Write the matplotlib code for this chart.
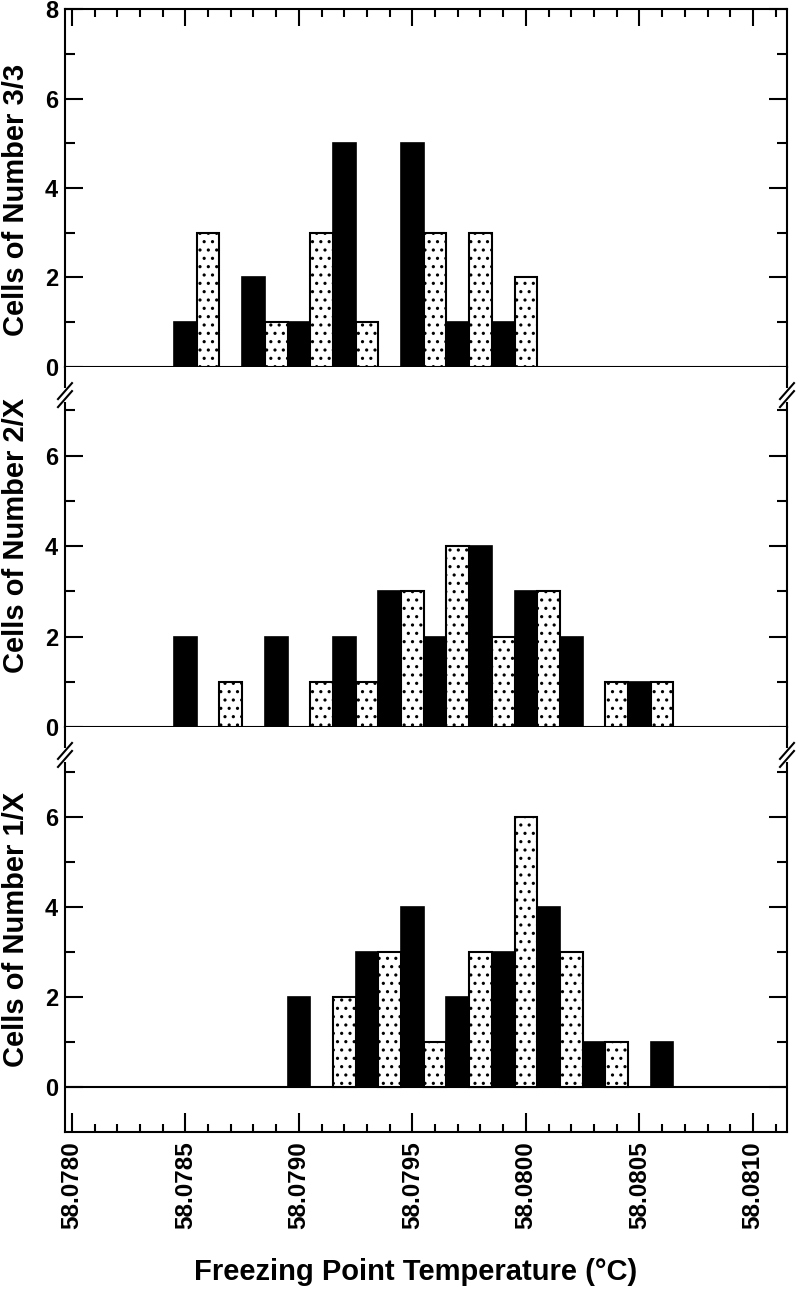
import numpy as np
import matplotlib
matplotlib.use("Agg")
import matplotlib.pyplot as plt
from matplotlib.ticker import FixedLocator, MultipleLocator, FormatStrFormatter

plt.rcParams['font.family'] = ['Liberation Sans', 'DejaVu Sans']
plt.rcParams['font.weight'] = 'bold'
plt.rcParams['axes.labelweight'] = 'bold'
plt.rcParams['hatch.linewidth'] = 1.1

# bin centres (deg C) and number of cells in each bin, one pair per panel
temp_33 = [58.0785, 58.0786, 58.0788, 58.0789, 58.0790, 58.0791, 58.0792,
           58.0793, 58.0795, 58.0796, 58.0797, 58.0798, 58.0799, 58.0800]
count_33 = [1, 3, 2, 1, 1, 3, 5, 1, 5, 3, 1, 3, 1, 2]

temp_2x = [58.0785, 58.0787, 58.0789, 58.0791, 58.0792, 58.0793, 58.0794,
           58.0795, 58.0796, 58.0797, 58.0798, 58.0799, 58.0800, 58.0801,
           58.0802, 58.0804, 58.0805, 58.0806]
count_2x = [2, 1, 2, 1, 2, 1, 3, 3, 2, 4, 4, 2, 3, 3, 2, 1, 1, 1]

temp_1x = [58.0790, 58.0792, 58.0793, 58.0794, 58.0795, 58.0796, 58.0797,
           58.0798, 58.0799, 58.0800, 58.0801, 58.0802, 58.0803, 58.0804,
           58.0806]
count_1x = [2, 2, 3, 3, 4, 1, 2, 3, 3, 6, 4, 3, 1, 1, 1]

panel_labels = ["Cells of Number 3/3", "Cells of Number 2/X", "Cells of Number 1/X"]
xtick_vals = [58.0780, 58.0785, 58.0790, 58.0795, 58.0800, 58.0805, 58.0810]
bin_width = 0.0001

W, H = 800, 1292
fig = plt.figure(figsize=(W / 100, H / 100), dpi=100)

# panel extents in pixels (top, bottom)
left_px, width_px = 65, 722
panels_px = [(9, 367), (367, 727), (727, 1132)]
ylims = [(0, 8), (0, 7.96), (-1, 8)]
ylabel_y = [0.467, 0.533, 0.499]
breaks = [None, 0.922, 0.931]

data = [(temp_33, count_33), (temp_2x, count_2x), (temp_1x, count_1x)]
axes = []


def break_marks(ax, frac, h):
    w = width_px
    for x in (0, 1):
        ax.plot([x, x], [frac - 7 / h, frac + 7 / h], color='white', lw=4,
                transform=ax.transAxes, clip_on=False, zorder=5,
                solid_capstyle='butt')
        for off in (-4, 4):
            ax.plot([x - 7 / w, x + 7 / w],
                    [frac + (off - 8) / h, frac + (off + 8) / h],
                    color='black', lw=1.5, transform=ax.transAxes,
                    clip_on=False, zorder=6)


for i, ((top, bot), (temps, counts)) in enumerate(zip(panels_px, data)):
    h = bot - top
    ax = fig.add_axes([left_px / W, 1 - bot / H, width_px / W, h / H])
    axes.append(ax)

    for j, (t, c) in enumerate(zip(temps, counts)):
        if j % 2 == 0:
            ax.bar(t, c, width=bin_width, color='black', edgecolor='black',
                   linewidth=1.2, zorder=3)
        else:
            ax.bar(t, c, width=bin_width, color='white', edgecolor='black',
                   hatch='..', linewidth=1.5, zorder=3)

    ax.set_xlim(58.07797, 58.08115)
    ax.set_ylim(*ylims[i])
    ax.xaxis.set_major_locator(FixedLocator(xtick_vals))
    ax.xaxis.set_minor_locator(MultipleLocator(0.0001))
    ax.xaxis.get_major_formatter().set_useOffset(False)

    yt = [0, 2, 4, 6, 8] if i == 0 else [0, 2, 4, 6]
    ax.yaxis.set_major_locator(FixedLocator(yt))
    ax.yaxis.set_minor_locator(FixedLocator([1, 3, 5, 7]))

    ax.tick_params(axis='y', which='both', direction='in', left=True,
                   right=True, width=1.5, labelsize=17, pad=5)
    ax.tick_params(axis='y', which='major', length=13)
    ax.tick_params(axis='y', which='minor', length=7)

    for s in ax.spines.values():
        s.set_linewidth(1.5)

    if i == 0:
        ax.tick_params(axis='x', which='both', direction='in', top=True,
                       bottom=False, labelbottom=False, width=1.5)
        ax.tick_params(axis='x', which='major', length=12)
        ax.tick_params(axis='x', which='minor', length=6)
    elif i == 1:
        ax.spines['top'].set_visible(False)
        ax.tick_params(axis='x', which='both', bottom=False, top=False,
                       labelbottom=False)
    else:
        ax.spines['top'].set_visible(False)
        ax.axhline(0, color='black', lw=1.5, zorder=2)
        ax.tick_params(axis='x', which='both', direction='in', bottom=True,
                       top=False, width=1.5, labelsize=17.5, pad=7,
                       labelrotation=90)
        ax.tick_params(axis='x', which='major', length=14)
        ax.tick_params(axis='x', which='minor', length=6)
        ax.xaxis.set_major_formatter(FormatStrFormatter('%.4f'))
        ax.set_xlabel('Freezing Point Temperature (°C)', fontsize=21)
        ax.xaxis.label.set_va('center')
        ax.xaxis.set_label_coords(0.485, (1132 - 1272) / h)

    ax.set_ylabel(panel_labels[i], fontsize=21)
    ax.yaxis.set_label_coords(-0.049, ylabel_y[i])

    if breaks[i] is not None:
        break_marks(ax, breaks[i], h)

fig.savefig('out.png', dpi=100, facecolor='white')
